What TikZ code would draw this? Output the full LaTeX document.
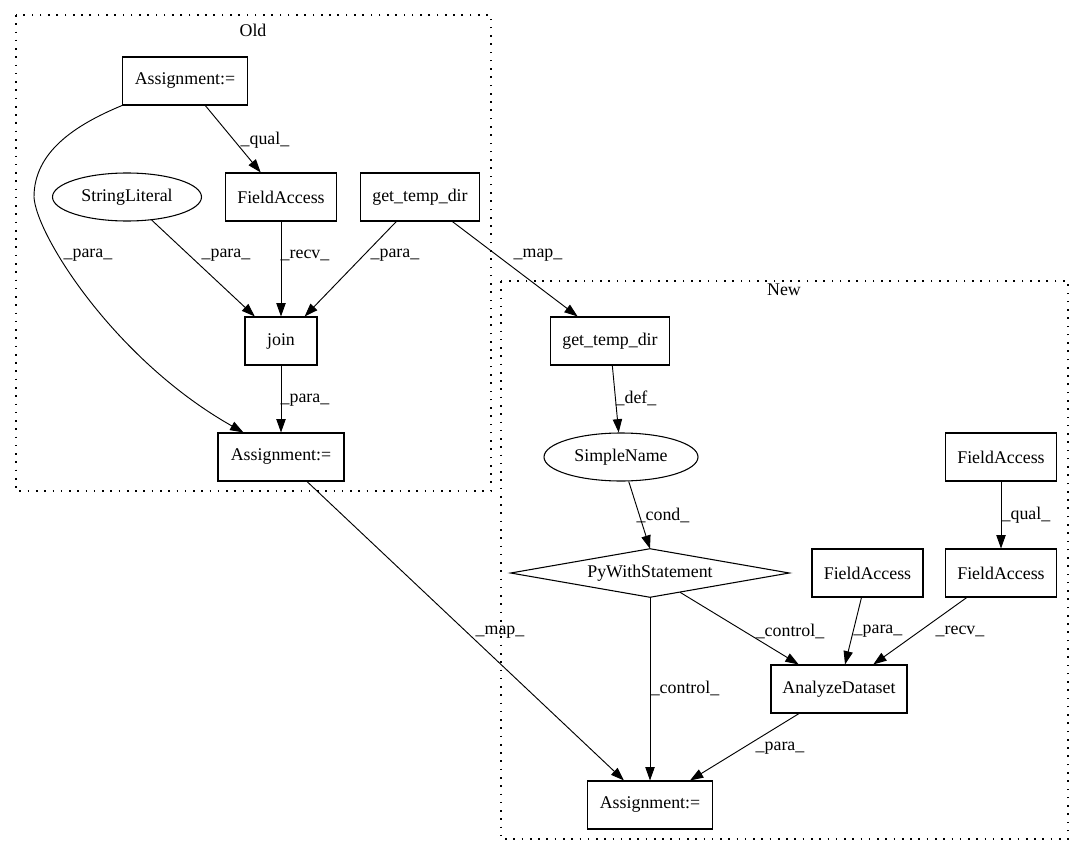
\documentclass[tikz,border=0pt]{standalone}
\usepackage{fontspec}
\setmainfont{Liberation Serif}
\usetikzlibrary{arrows.meta,calc,shapes.geometric}
\begin{document}
\begin{tikzpicture}[x=0.75pt,y=-0.75pt,
  every node/.style={font=\fontsize{13.4pt}{16pt}\selectfont},
  box/.style={draw,rectangle,inner sep=0pt,minimum height=36pt,line width=0.8pt},
  ell/.style={draw,ellipse,inner sep=0pt,minimum height=36pt,line width=0.8pt},
  lbl/.style={inner sep=0pt},
  arr/.style={-{Triangle[length=10pt,width=7pt]},line width=0.7pt},
  clus/.style={line width=0.8pt,dash pattern=on 1.2pt off 5pt}]
\useasboundingbox (0,0) rectangle (1085,856);
% clusters
\draw[clus] (16,15) rectangle (491,491);
\node (oldlbl) at (253,30) {Old};
\draw[clus] (501,281) rectangle (1068,839);
\node (newlbl) at (784,290) {New};
% Old nodes
\node[box,minimum width=93.75pt] (A1) at (185,81) {Assignment:=};
\node[ell,minimum width=111.75pt] (SL) at (127,197) {StringLiteral};
\node[box,minimum width=83.25pt] (FA1) at (281,197) {FieldAccess};
\node[box,minimum width=89.25pt] (G1) at (420,197) {get\_temp\_dir};
\node[box,minimum width=54pt] (J) at (281,341) {join};
\node[box,minimum width=94.5pt] (A2) at (281,457) {Assignment:=};
% New nodes
\node[box,minimum width=89.25pt] (G2) at (610,341) {get\_temp\_dir};
\node[ell,minimum width=115.5pt] (SN) at (621,457) {SimpleName};
\node[box,minimum width=83.25pt] (FT) at (1001,457) {FieldAccess};
\node[rectangle,inner sep=0pt,minimum width=208.5pt,minimum height=36pt] (PW) at (650,573) {PyWithStatement};
\draw[line width=0.8pt] (PW.west) -- (PW.north) -- (PW.east) -- (PW.south) -- cycle;
\node[box,minimum width=83.25pt] (FM) at (867.5,573) {FieldAccess};
\node[box,minimum width=83.25pt] (FR) at (1001,573) {FieldAccess};
\node[box,minimum width=102pt] (AD) at (839,689) {AnalyzeDataset};
\node[box,minimum width=93.75pt] (A3) at (650,805) {Assignment:=};
% Old edges
\draw[arr] (A1) -- (FA1);
\node[lbl] at (265,140) {\_qual\_};
\draw[arr] (A1.south west) .. controls (75,125) and (34,152) .. (34,197)
  .. controls (36,235) and (115,360) .. ($(A2.north west)+(26,0)$);
\node[lbl] at (88,255) {\_para\_};
\draw[arr] (SL) -- (J);
\node[lbl] at (226,255) {\_para\_};
\draw[arr] (FA1) -- (J);
\node[lbl] at (305,255) {\_recv\_};
\draw[arr] (G1) -- (J);
\node[lbl] at (395,255) {\_para\_};
\draw[arr] (J) -- (A2);
\node[lbl] at (305,400) {\_para\_};
% cross edges
\draw[arr] (G1) -- (G2);
\node[lbl] at (538,255) {\_map\_};
\draw[arr] (A2) -- (A3);
\node[lbl] at (500,632) {\_map\_};
% New edges
\draw[arr] (G2) -- (SN);
\node[lbl] at (636,398) {\_def\_};
\draw[arr] (SN) -- (PW.north);
\node[lbl] at (663,515) {\_cond\_};
\draw[arr] (FT) -- (FR);
\node[lbl] at (1026,515) {\_qual\_};
\draw[arr] ($(PW.south)+(30,-5)$) -- (AD);
\node[lbl] at (790,631) {\_control\_};
\draw[arr] (FM) -- (AD);
\node[lbl] at (878,631) {\_para\_};
\draw[arr] (FR) -- (AD);
\node[lbl] at (960,631) {\_recv\_};
\draw[arr] (PW.south) -- (A3);
\node[lbl] at (685,688) {\_control\_};
\draw[arr] (AD) -- (A3);
\node[lbl] at (780,748) {\_para\_};
\end{tikzpicture}
\end{document}
